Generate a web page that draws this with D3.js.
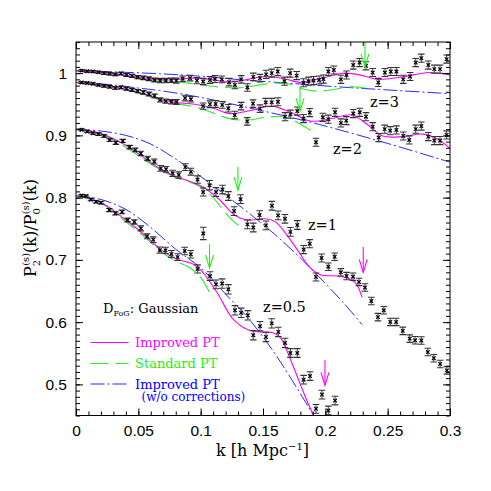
<!DOCTYPE html>
<html><head><meta charset="utf-8">
<script src="https://cdn.jsdelivr.net/npm/d3@7/dist/d3.min.js"></script>
<style>body{margin:0;background:#fff}svg{display:block}</style>
</head><body><svg id="c" width="491" height="491"></svg>
<script>
// ---------- data ----------
const xTicks = [0, 0.05, 0.1, 0.15, 0.2, 0.25, 0.3];
const xTickLabels = ["0", "0.05", "0.1", "0.15", "0.2", "0.25", "0.3"];
const yTicks = [0.5, 0.6, 0.7, 0.8, 0.9, 1.0];
const yTickLabels = ["0.5", "0.6", "0.7", "0.8", "0.9", "1"];
const redshifts = ["z=3", "z=2", "z=1", "z=0.5"];
const legendNames = ["Improved PT", "Standard PT", "Improved PT"];

// N-body points: [k, P2/P0, error]
const dataZ3 = [[0.0045,1.004,0.0015],[0.009,1.003,0.0015],[0.0135,1.0025,0.0015],[0.018,1.0015,0.0015],[0.0225,1.0,0.002],[0.027,0.999,0.002],[0.0315,0.998,0.002],[0.036,0.9995,0.002],[0.0405,0.997,0.0025],[0.045,0.9955,0.0025],[0.0495,0.9935,0.0025],[0.054,0.9925,0.003],[0.0585,0.991,0.003],[0.063,0.989,0.003],[0.0675,0.988,0.0035],[0.072,0.988,0.0035],[0.0765,0.9885,0.0035],[0.0805,0.988,0.004],[0.0855,0.991,0.0045],[0.0915,0.992,0.0045],[0.097,0.988,0.005],[0.102,0.9865,0.005],[0.1075,0.989,0.0055],[0.1115,0.9905,0.0055],[0.117,0.990,0.0055],[0.1228,0.9855,0.006],[0.1275,0.981,0.006],[0.1325,0.990,0.006],[0.1375,0.977,0.006],[0.1422,0.994,0.006],[0.1476,0.992,0.006],[0.1525,0.998,0.0065],[0.157,1.0,0.0065],[0.1618,1.0025,0.0065],[0.1672,0.987,0.0065],[0.1718,1.0,0.0065],[0.177,0.996,0.0065],[0.1825,0.9845,0.0065],[0.1865,0.987,0.0065],[0.1905,0.988,0.0065],[0.195,0.989,0.0065],[0.1985,0.9905,0.0065],[0.2024,1.0026,0.0065],[0.2068,1.005,0.0065],[0.2125,0.990,0.0065],[0.217,0.997,0.0065],[0.2224,1.013,0.0065],[0.2275,1.017,0.0065],[0.2326,1.0117,0.0065],[0.238,1.001,0.0065],[0.2425,0.985,0.0065],[0.2478,1.001,0.0065],[0.2525,1.0026,0.0065],[0.257,1.0026,0.0065],[0.2625,0.990,0.0065],[0.268,0.9946,0.0065],[0.2725,1.017,0.0065],[0.277,1.024,0.0065],[0.2826,1.013,0.0065],[0.2874,1.0064,0.0065],[0.292,1.0064,0.0065],[0.2973,1.0225,0.0065]];
const dataZ2 = [[0.0045,0.985,0.0015],[0.009,0.984,0.0015],[0.0135,0.983,0.0015],[0.018,0.981,0.0015],[0.0225,0.9795,0.002],[0.027,0.978,0.002],[0.0315,0.976,0.002],[0.036,0.977,0.002],[0.0405,0.975,0.0025],[0.045,0.973,0.0025],[0.0495,0.971,0.0025],[0.054,0.969,0.003],[0.0585,0.9665,0.003],[0.063,0.9635,0.003],[0.0675,0.957,0.0035],[0.072,0.955,0.0035],[0.0765,0.954,0.0035],[0.0805,0.9535,0.004],[0.0875,0.960,0.0045],[0.0922,0.958,0.0045],[0.102,0.947,0.005],[0.1075,0.950,0.0055],[0.112,0.9505,0.0055],[0.1173,0.949,0.0055],[0.1222,0.9435,0.006],[0.1273,0.9327,0.006],[0.1325,0.947,0.006],[0.1373,0.9225,0.006],[0.142,0.951,0.006],[0.1476,0.943,0.006],[0.1522,0.953,0.0065],[0.157,0.953,0.0065],[0.162,0.954,0.0065],[0.1677,0.930,0.0065],[0.172,0.934,0.0065],[0.1775,0.939,0.0065],[0.1825,0.927,0.0065],[0.1875,0.9366,0.0065],[0.1925,0.889,0.0065],[0.198,0.929,0.0065],[0.2024,0.926,0.0065],[0.2078,0.937,0.0065],[0.2125,0.920,0.0065],[0.2168,0.9237,0.0065],[0.2224,0.935,0.0065],[0.2276,0.937,0.0065],[0.2326,0.930,0.0065],[0.238,0.914,0.0065],[0.2428,0.8965,0.0065],[0.2476,0.910,0.0065],[0.252,0.9076,0.0065],[0.257,0.9087,0.0065],[0.2625,0.899,0.0065],[0.2673,0.8927,0.0065],[0.2725,0.910,0.0065],[0.277,0.915,0.0065],[0.2826,0.898,0.0065],[0.2874,0.8917,0.0065],[0.292,0.8917,0.0065],[0.2973,0.9007,0.0065]];
const dataZ1 = [[0.0045,0.909,0.0015],[0.009,0.906,0.0015],[0.0135,0.9035,0.0015],[0.018,0.902,0.002],[0.0225,0.899,0.002],[0.027,0.8925,0.002],[0.032,0.888,0.0025],[0.0375,0.891,0.0025],[0.043,0.881,0.003],[0.0476,0.8766,0.003],[0.052,0.871,0.0035],[0.0575,0.863,0.0035],[0.0628,0.858,0.004],[0.068,0.847,0.0045],[0.0722,0.8455,0.0045],[0.0775,0.839,0.005],[0.0824,0.8364,0.005],[0.0877,0.849,0.0055],[0.0922,0.8416,0.0055],[0.0975,0.829,0.006],[0.102,0.809,0.0065],[0.1071,0.820,0.0075],[0.1123,0.809,0.007],[0.1175,0.813,0.007],[0.1222,0.8026,0.007],[0.1268,0.7784,0.007],[0.132,0.7975,0.007],[0.1375,0.757,0.007],[0.1422,0.752,0.007],[0.1473,0.772,0.007],[0.1524,0.7554,0.007],[0.1572,0.787,0.007],[0.1621,0.7715,0.007],[0.1676,0.766,0.007],[0.172,0.745,0.007],[0.1775,0.756,0.007],[0.1826,0.7166,0.0065],[0.1875,0.726,0.0065],[0.1925,0.6725,0.0065],[0.197,0.703,0.0065],[0.2024,0.689,0.006],[0.2075,0.705,0.006],[0.2124,0.680,0.006],[0.217,0.674,0.006],[0.2222,0.673,0.006],[0.227,0.6646,0.006],[0.2318,0.6556,0.006],[0.2369,0.634,0.006],[0.2422,0.608,0.006],[0.2469,0.619,0.006],[0.2521,0.6003,0.006],[0.2568,0.6003,0.006],[0.2621,0.586,0.006],[0.2677,0.5735,0.006],[0.272,0.5708,0.006],[0.277,0.5705,0.006],[0.2822,0.552,0.006],[0.287,0.542,0.006],[0.2921,0.5328,0.006],[0.2975,0.5225,0.006]];
const dataZ05 = [[0.0045,0.8035,0.0015],[0.008,0.8026,0.0015],[0.012,0.797,0.002],[0.016,0.7934,0.002],[0.020,0.7918,0.002],[0.0267,0.780,0.0025],[0.0316,0.7747,0.0025],[0.0369,0.777,0.003],[0.0414,0.764,0.003],[0.0468,0.761,0.0035],[0.052,0.7506,0.004],[0.0571,0.738,0.004],[0.062,0.7325,0.0045],[0.0672,0.7156,0.005],[0.0718,0.7153,0.005],[0.0765,0.7095,0.0055],[0.0815,0.7044,0.0055],[0.0872,0.7143,0.006],[0.0921,0.709,0.006],[0.0975,0.6854,0.0065],[0.1021,0.7425,0.01],[0.1075,0.674,0.007],[0.1123,0.6607,0.007],[0.1172,0.662,0.0075],[0.1222,0.6527,0.0075],[0.1275,0.619,0.0075],[0.1325,0.615,0.0075],[0.1378,0.611,0.0075],[0.1422,0.579,0.0075],[0.1476,0.5935,0.0075],[0.1524,0.5762,0.0075],[0.157,0.598,0.0075],[0.1623,0.5842,0.0075],[0.1677,0.5665,0.0075],[0.172,0.5504,0.007],[0.1775,0.5504,0.007],[0.1826,0.5075,0.007],[0.1877,0.5134,0.007],[0.1925,0.4607,0.007],[0.1973,0.4836,0.007],[0.2024,0.458,0.007],[0.2078,0.474,0.007]];

// Model curves: [k, P2/P0]
const improvedZ3 = [[0,1.004],[0.02,1.001],[0.04,0.996],[0.06,0.991],[0.075,0.989],[0.093,0.992],[0.108,0.99],[0.1225,0.9855],[0.138,0.990],[0.153,0.995],[0.167,0.991],[0.181,0.985],[0.197,0.992],[0.216,1.0],[0.23,0.996],[0.242,0.990],[0.262,0.994],[0.283,1.001],[0.3,0.997]];
const standardZ3 = [[0,1.004],[0.02,1.001],[0.04,0.996],[0.06,0.990],[0.075,0.987],[0.09,0.984],[0.105,0.980],[0.12,0.977],[0.135,0.977],[0.15,0.982],[0.162,0.984],[0.172,0.982],[0.183,0.974],[0.195,0.971],[0.21,0.975],[0.222,0.978],[0.232,0.976]];
const noCorrZ3 = [[0,1.004],[0.03,1.002],[0.067,0.999],[0.1,0.995],[0.134,0.989],[0.17,0.984],[0.21,0.978],[0.25,0.973],[0.3,0.967]];
const improvedZ2 = [[0,0.985],[0.02,0.981],[0.04,0.974],[0.055,0.966],[0.067,0.958],[0.08,0.953],[0.095,0.950],[0.11,0.944],[0.123,0.935],[0.14,0.940],[0.157,0.947],[0.172,0.937],[0.188,0.923],[0.205,0.927],[0.221,0.933],[0.234,0.917],[0.246,0.899],[0.262,0.898],[0.278,0.902],[0.29,0.894],[0.3,0.879]];
const standardZ2 = [[0,0.985],[0.02,0.981],[0.04,0.974],[0.055,0.965],[0.067,0.957],[0.08,0.951],[0.095,0.946],[0.11,0.936],[0.125,0.926],[0.14,0.925],[0.155,0.930],[0.168,0.929],[0.18,0.918],[0.19,0.906]];
const noCorrZ2 = [[0,0.985],[0.03,0.981],[0.05,0.976],[0.067,0.972],[0.1,0.961],[0.137,0.945],[0.17,0.930],[0.2,0.915],[0.25,0.887],[0.3,0.857]];
const improvedZ1 = [[0,0.910],[0.02,0.903],[0.04,0.884],[0.056,0.862],[0.07,0.843],[0.083,0.832],[0.1,0.819],[0.115,0.797],[0.127,0.772],[0.137,0.764],[0.152,0.766],[0.16,0.761],[0.168,0.743],[0.179,0.712],[0.187,0.689],[0.196,0.676],[0.21,0.674],[0.22,0.669],[0.225,0.661],[0.2295,0.640]];
const standardZ1 = [[0,0.910],[0.02,0.902],[0.04,0.881],[0.06,0.854],[0.08,0.832],[0.09,0.826],[0.1,0.817],[0.11,0.800],[0.12,0.775],[0.128,0.759],[0.134,0.752]];
const noCorrZ1 = [[0,0.910],[0.02,0.907],[0.04,0.900],[0.06,0.886],[0.08,0.862],[0.1,0.834],[0.12,0.804],[0.14,0.773],[0.16,0.740],[0.18,0.703],[0.2,0.662],[0.215,0.630],[0.2295,0.596]];
const improvedZ05 = [[0,0.803],[0.02,0.792],[0.04,0.764],[0.055,0.740],[0.067,0.718],[0.08,0.702],[0.093,0.694],[0.1,0.684],[0.113,0.648],[0.126,0.605],[0.14,0.586],[0.15,0.584],[0.158,0.583],[0.164,0.575],[0.172,0.540],[0.18,0.500],[0.186,0.470],[0.192,0.445]];
const standardZ05 = [[0,0.803],[0.02,0.791],[0.04,0.761],[0.055,0.737],[0.067,0.715],[0.08,0.698],[0.09,0.689],[0.1,0.672],[0.107,0.648]];
const noCorrZ05 = [[0,0.803],[0.02,0.797],[0.04,0.781],[0.06,0.752],[0.08,0.717],[0.1,0.687],[0.12,0.645],[0.14,0.602],[0.16,0.548],[0.18,0.485],[0.192,0.445]];

// arrows: [k, P top, P tip]
const arrowsStandard = [[0.2318,1.05,1.010],[0.1797,0.976,0.939],[0.1299,0.849,0.812],[0.1071,0.725,0.687]];
const arrowsImproved = [[0.2304,0.7206,0.680],[0.1997,0.5386,0.4984]];

// ---------- drawing ----------
const MAG = "#ff00ff", GRN = "#22ee22", BLU = "#0000ff";
const svg = d3.select("#c");
const L = 76, R = 450, T = 42, B = 415.5;
const x = d3.scaleLinear().domain([0, 0.3]).range([L, R]);
const y = d3.scaleLinear().domain([0.45, 1.05]).range([B, T]);

svg.append("defs").append("clipPath").attr("id","clip")
  .append("rect").attr("x",L).attr("y",T).attr("width",R-L).attr("height",B-T);

const plot = svg.append("g").attr("clip-path","url(#clip)");
const line = d3.line().x(d=>x(d[0])).y(d=>y(d[1])).curve(d3.curveCatmullRom.alpha(0.5));

function curve(data, color, dash, w){
  plot.append("path").datum(data).attr("d", line).attr("fill","none")
    .attr("stroke", color).attr("stroke-width", w)
    .attr("stroke-dasharray", dash || null);
}
const DASH_G = "18,7", DASH_B = "14,3,2,3";
[noCorrZ3,noCorrZ2,noCorrZ1,noCorrZ05].forEach(d=>curve(d,BLU,DASH_B,0.85));
[standardZ3,standardZ2,standardZ1,standardZ05].forEach(d=>curve(d,GRN,DASH_G,1.1));
[improvedZ3,improvedZ2,improvedZ1,improvedZ05].forEach(d=>curve(d,MAG,null,1.1));

// points with error bars
function points(data){
  const g = plot.append("g");
  const p = g.selectAll("g").data(data).enter().append("g");
  p.append("line").attr("x1",d=>x(d[0])).attr("x2",d=>x(d[0]))
    .attr("y1",d=>y(d[1]-d[2])).attr("y2",d=>y(d[1]+d[2]))
    .attr("stroke","#444").attr("stroke-width",1);
  [-1,1].forEach(s=>{
    p.append("line").attr("x1",d=>x(d[0])-3.3).attr("x2",d=>x(d[0])+3.3)
      .attr("y1",d=>y(d[1]+s*d[2])).attr("y2",d=>y(d[1]+s*d[2]))
      .attr("stroke","#333").attr("stroke-width",1.1);
  });
  p.append("path").attr("d",d=>{const cx=x(d[0]), cy=y(d[1]), r=1.8;
      return `M${cx-r},${cy-r}L${cx+r},${cy+r}M${cx-r},${cy+r}L${cx+r},${cy-r}`;})
    .attr("stroke","#000").attr("stroke-width",1.2).attr("fill","none");
}
[dataZ3,dataZ2,dataZ1,dataZ05].forEach(points);

// arrows
function arrow(a, color){
  const cx = x(a[0]), y0 = y(a[1]), y1 = y(a[2]);
  const g = plot.append("g").attr("stroke",color).attr("stroke-width",1.1).attr("fill","none");
  g.append("line").attr("x1",cx).attr("x2",cx).attr("y1",y0).attr("y2",y1);
  g.append("path").attr("d",`M${cx-4},${y1-13}L${cx},${y1}L${cx+4},${y1-13}`);
}
arrowsStandard.forEach(a=>arrow(a,GRN));
arrowsImproved.forEach(a=>arrow(a,MAG));

// frame
svg.append("rect").attr("x",L).attr("y",T).attr("width",R-L).attr("height",B-T)
  .attr("fill","none").attr("stroke","#000").attr("stroke-width",1);

// axes
const tickFont = "Liberation Sans, Arial, sans-serif";
const xMinor = d3.range(0, 0.3001, 0.01);
const yMinor = d3.range(0.45, 1.0501, 0.01);
function styleAxis(g){ g.select(".domain").remove(); g.selectAll("line").attr("stroke","#000"); }

svg.append("g").attr("transform",`translate(0,${B})`)
  .call(d3.axisBottom(x).tickValues(xTicks).tickSizeInner(-7).tickSizeOuter(0)
    .tickFormat((d,i)=>xTickLabels[i]))
  .call(styleAxis)
  .call(g=>g.selectAll("text").attr("y",20.5).attr("dy",null)
    .style("font-family",tickFont).style("font-size","15.5px").attr("fill","#000"));
svg.append("g").attr("transform",`translate(0,${B})`)
  .call(d3.axisBottom(x).tickValues(xMinor).tickSizeInner(-4).tickSizeOuter(0).tickFormat(""))
  .call(styleAxis);
svg.append("g").attr("transform",`translate(0,${T})`)
  .call(d3.axisTop(x).tickValues(xTicks).tickSizeInner(-7).tickSizeOuter(0).tickFormat(""))
  .call(styleAxis);
svg.append("g").attr("transform",`translate(0,${T})`)
  .call(d3.axisTop(x).tickValues(xMinor).tickSizeInner(-4).tickSizeOuter(0).tickFormat(""))
  .call(styleAxis);

svg.append("g").attr("transform",`translate(${L},0)`)
  .call(d3.axisLeft(y).tickValues(yTicks).tickSizeInner(-7).tickSizeOuter(0).tickPadding(9)
    .tickFormat((d,i)=>yTickLabels[i]))
  .call(styleAxis)
  .call(g=>g.selectAll("text").style("font-family",tickFont).style("font-size","15.5px").attr("fill","#000"));
svg.append("g").attr("transform",`translate(${L},0)`)
  .call(d3.axisLeft(y).tickValues(yMinor).tickSizeInner(-4).tickSizeOuter(0).tickFormat(""))
  .call(styleAxis);
svg.append("g").attr("transform",`translate(${R},0)`)
  .call(d3.axisRight(y).tickValues(yTicks).tickSizeInner(-7).tickSizeOuter(0).tickFormat(""))
  .call(styleAxis);
svg.append("g").attr("transform",`translate(${R},0)`)
  .call(d3.axisRight(y).tickValues(yMinor).tickSizeInner(-4).tickSizeOuter(0).tickFormat(""))
  .call(styleAxis);

// axis titles
const serif = "DejaVu Serif, serif";
const xl = svg.append("text").attr("x",262.5).attr("y",456).attr("text-anchor","middle")
  .style("font-family",serif).style("font-size","16px");
xl.append("tspan").text("k [h Mpc");
xl.append("tspan").attr("dy",-6).style("font-size","10px").text("\u22121");
xl.append("tspan").attr("dy",6).text("]");

const yl = svg.append("text").attr("transform","translate(36,228) rotate(-90)")
  .attr("text-anchor","middle").style("font-family",serif).style("font-size","16px");
function ratioPart(sub){
  yl.append("tspan").text("P");
  yl.append("tspan").attr("dy",4).style("font-size","10px").text(sub);
  yl.append("tspan").attr("dx",-6).attr("dy",-11).style("font-size","10px").text("(s)");
  yl.append("tspan").attr("dy",7).text("(k)");
}
ratioPart("2");
yl.append("tspan").text("/");
ratioPart("0");

// redshift labels
const zPos = [[0.2358,0.9455],[0.2061,0.870],[0.186,0.748],[0.150,0.616]];
redshifts.forEach((t,i)=>{
  svg.append("text").attr("x",x(zPos[i][0])).attr("y",y(zPos[i][1]))
    .style("font-family",serif).style("font-size","14.5px").text(t);
});

// legend
const dl = svg.append("text").attr("x",103).attr("y",312.5)
  .style("font-family",serif).style("font-size","13px");
dl.append("tspan").text("D");
dl.append("tspan").attr("dy",3).style("font-size","8px").text("FoG");
dl.append("tspan").attr("dy",-3).text(": Gaussian");

const legendItems = [[MAG,null,342.5,1.1],[GRN,DASH_G,363.5,1.1],[BLU,DASH_B,384,0.85]];
legendItems.forEach((it,i)=>{
  svg.append("line").attr("x1",90.5).attr("x2",128.5).attr("y1",it[2]).attr("y2",it[2])
    .attr("stroke",it[0]).attr("stroke-width",it[3]).attr("stroke-dasharray",it[1]);
  svg.append("text").attr("x",135).attr("y",it[2]+4.5).attr("fill",it[0])
    .style("font-family",serif).style("font-size","13px").text(legendNames[i]);
});
svg.append("text").attr("x",141.5).attr("y",401).attr("fill",BLU)
  .style("font-family",serif).style("font-size","12px").text("(w/o corrections)");
</script></body></html>
